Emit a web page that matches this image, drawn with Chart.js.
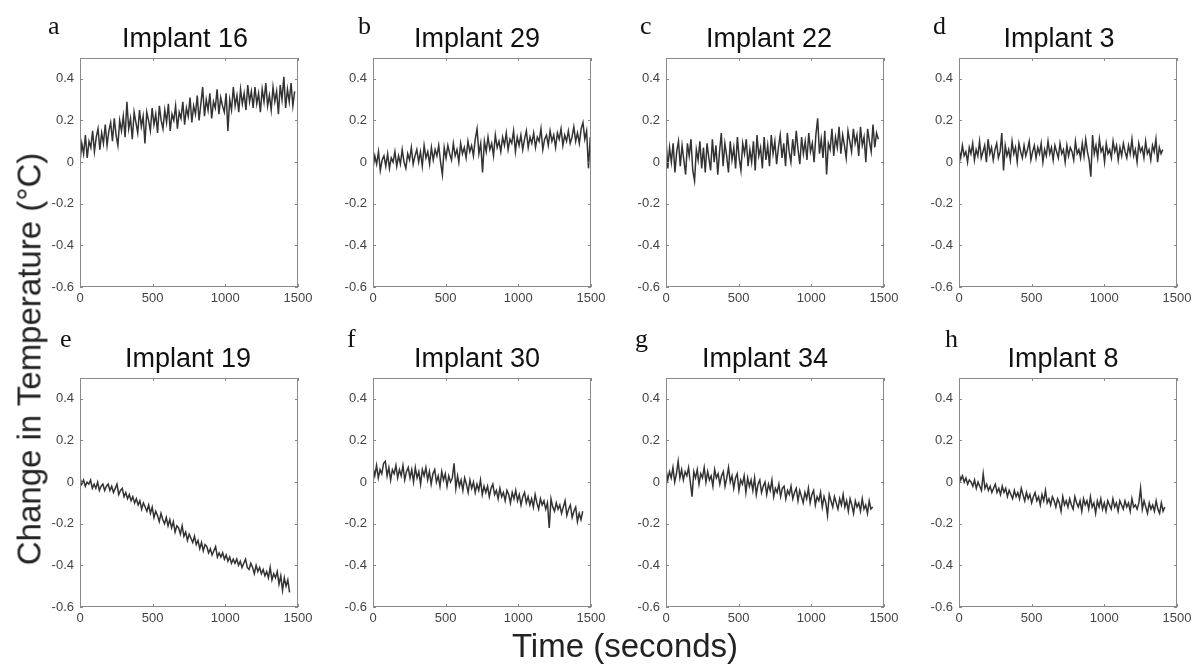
<!DOCTYPE html>
<html>
<head>
<meta charset="utf-8">
<script src="https://cdn.jsdelivr.net/npm/chart.js"></script>
<style>
  body { margin: 0; background: #fff; }
  #page { position: relative; width: 1199px; height: 664px; overflow: hidden; font-family: "Liberation Sans", Arial, sans-serif; }
  #page canvas { position: absolute; }
  .title { position: absolute; text-align: center; font-size: 27px; line-height: 27px; color: #111; white-space: nowrap; }
  .letter { position: absolute; font-family: "Liberation Serif", "Times New Roman", serif; font-size: 26px; line-height: 26px; color: #111; }
  .axlabel { position: absolute; font-size: 33px; line-height: 33px; color: #222; white-space: nowrap; }
</style>
</head>
<body>
<div id="page"></div>
<script>
// axis ticks shared by every panel
var xTicks = [0, 500, 1000, 1500];
var yTicks = [-0.6, -0.4, -0.2, 0, 0.2, 0.4];

var panelLetters = ['a', 'b', 'c', 'd', 'e', 'f', 'g', 'h'];
var panelTitles = ['Implant 16', 'Implant 29', 'Implant 22', 'Implant 3',
                   'Implant 19', 'Implant 30', 'Implant 34', 'Implant 8'];
// last recorded time of each trace (s)
var endTimes = [1477, 1495, 1461, 1402, 1442, 1443, 1422, 1416];

// change in temperature (°C), evenly spaced samples from 0 to the end time
var implant16 = [0.00, 0.09, 0.04, 0.13, 0.02, 0.10, 0.07, 0.15,
  0.05, 0.12, 0.16, 0.06, 0.14, 0.09, 0.18, 0.08,
  0.15, 0.19, 0.10, 0.21, 0.13, 0.08, 0.20, 0.15,
  0.22, 0.12, 0.29, 0.16, 0.21, 0.11, 0.24, 0.19,
  0.14, 0.25, 0.17, 0.22, 0.09, 0.24, 0.20, 0.15,
  0.26, 0.18, 0.23, 0.14, 0.27, 0.20, 0.16, 0.25,
  0.19, 0.28, 0.15, 0.23, 0.20, 0.27, 0.16, 0.24,
  0.21, 0.29, 0.18, 0.26, 0.22, 0.31, 0.19, 0.27,
  0.23, 0.32, 0.20, 0.28, 0.36, 0.22, 0.30, 0.25,
  0.33, 0.21, 0.29, 0.26, 0.35, 0.23, 0.31, 0.27, 0.24,
  0.33, 0.15, 0.30, 0.25, 0.36, 0.27, 0.32, 0.24,
  0.35, 0.28, 0.33, 0.25, 0.37, 0.29, 0.34, 0.26,
  0.36, 0.28, 0.33, 0.24, 0.35, 0.29, 0.38, 0.27,
  0.32, 0.25, 0.36, 0.29, 0.34, 0.23, 0.37, 0.30,
  0.41, 0.26, 0.35, 0.29, 0.38, 0.27, 0.34];
var implant29 = [-0.03, 0.03, -0.01, 0.05, -0.04, 0.01, 0.03, -0.02,
  0.04, -0.03, 0.02, 0.00, 0.05, -0.02, 0.03, -0.01,
  0.06, 0.00, -0.03, 0.04, 0.01, 0.07, -0.01, 0.03,
  0.06, 0.00, 0.05, -0.02, 0.08, 0.02, 0.05, -0.01,
  0.07, 0.01, 0.06, 0.03, 0.08, 0.00, -0.06, 0.07,
  0.02, 0.08, 0.04, 0.01, 0.09, 0.03, 0.06, 0.00,
  0.09, 0.04, 0.07, 0.02, 0.10, 0.05, 0.08, 0.03,
  0.11, 0.16, 0.04, 0.09, -0.05, 0.10, 0.05, 0.12,
  0.06, 0.09, 0.03, 0.13, 0.07, 0.10, 0.05, 0.12,
  0.08, 0.14, 0.06, 0.11, 0.09, 0.15, 0.05, 0.12,
  0.08, 0.13, 0.06, 0.11, 0.15, 0.07, 0.12, 0.09,
  0.14, 0.07, 0.12, 0.10, 0.16, 0.06, 0.11, 0.13,
  0.08, 0.15, 0.10, 0.13, 0.07, 0.14, 0.11, 0.16,
  0.08, 0.13, 0.10, 0.15, 0.09, 0.12, 0.17, 0.10,
  0.14, 0.09, 0.16, 0.19, 0.11, 0.15, -0.03, 0.12];
var implant22 = [0.11, -0.03, 0.07, 0.00, 0.09, -0.05, 0.05, 0.10,
  -0.02, 0.08, 0.01, -0.06, 0.09, 0.03, 0.11, -0.04,
  -0.09, 0.06, 0.01, 0.10, -0.03, 0.07, -0.05, 0.09,
  0.02, -0.04, 0.11, 0.00, 0.08, -0.06, 0.05, 0.14,
  -0.02, 0.09, 0.03, -0.05, 0.10, 0.01, 0.07, -0.03,
  0.12, 0.02, -0.04, 0.09, 0.04, 0.11, -0.02, 0.06,
  0.00, 0.10, -0.04, 0.13, 0.03, 0.07, -0.03, 0.12,
  0.01, 0.08, -0.02, 0.13, 0.04, 0.10, -0.01, 0.07,
  0.13, 0.02, 0.09, -0.02, 0.14, 0.05, 0.00, 0.11,
  0.03, 0.15, 0.06, -0.01, 0.12, 0.04, 0.10, 0.01,
  0.14, 0.05, 0.09, 0.00, 0.13, 0.21, 0.04, 0.11,
  0.02, 0.15, -0.06, 0.09, 0.06, 0.16, 0.03, 0.12,
  0.07, 0.17, 0.04, 0.13, 0.08, 0.02, 0.15, 0.10,
  0.05, 0.16, 0.09, 0.13, 0.03, 0.17, 0.08, 0.12,
  0.00, 0.16, 0.10, 0.05, 0.18, 0.07, 0.14, 0.11];
var implant3 = [0.06, 0.02, 0.08, 0.03, 0.05, 0.00, 0.07, 0.04,
  0.09, 0.01, 0.06, 0.03, 0.10, 0.02, 0.05, 0.08,
  0.00, 0.11, 0.04, 0.07, 0.01, 0.06, 0.09, 0.02,
  0.05, 0.14, -0.04, 0.08, 0.03, 0.06, 0.01, 0.10,
  0.04, 0.07, 0.00, 0.09, 0.05, 0.02, 0.08, 0.03,
  0.06, 0.10, 0.01, 0.05, 0.08, 0.02, 0.07, 0.04,
  0.09, 0.00, 0.06, 0.03, 0.10, 0.04, 0.07, 0.01,
  0.08, 0.05, 0.02, 0.09, 0.04, 0.06, 0.00, 0.08,
  0.03, 0.07, 0.05, 0.01, 0.10, 0.04, 0.06, 0.02,
  0.09, 0.03, 0.11, 0.05, 0.01, -0.07, 0.13, 0.04,
  0.08, 0.02, 0.11, 0.05, 0.07, 0.00, 0.09, 0.04,
  0.06, 0.02, 0.10, 0.05, 0.08, 0.01, 0.07, 0.03,
  0.09, 0.05, 0.02, 0.08, 0.04, 0.11, 0.03, 0.06,
  0.00, 0.09, 0.05, 0.07, 0.02, 0.10, 0.04, 0.06,
  0.01, 0.08, 0.05, 0.11, 0.00, 0.07, 0.04, 0.06];
var implant19 = [0.02, -0.01, 0.01, -0.02, 0.00, -0.01, 0.01, -0.03,
  -0.01, -0.03, 0.00, -0.04, -0.02, -0.01, -0.04, -0.02,
  -0.01, -0.04, -0.02, -0.05, -0.03, -0.01, -0.06, -0.04,
  -0.03, -0.07, -0.05, -0.08, -0.06, -0.09, -0.07, -0.10,
  -0.08, -0.11, -0.09, -0.13, -0.10, -0.12, -0.14, -0.11,
  -0.15, -0.12, -0.17, -0.14, -0.16, -0.19, -0.15, -0.18,
  -0.20, -0.17, -0.21, -0.18, -0.22, -0.19, -0.24, -0.21,
  -0.22, -0.25, -0.21, -0.26, -0.24, -0.28, -0.25, -0.27,
  -0.29, -0.26, -0.30, -0.28, -0.32, -0.29, -0.33, -0.30,
  -0.31, -0.34, -0.32, -0.35, -0.33, -0.31, -0.36, -0.34,
  -0.36, -0.34, -0.37, -0.35, -0.38, -0.36, -0.39, -0.37,
  -0.39, -0.37, -0.40, -0.38, -0.41, -0.39, -0.37, -0.41,
  -0.42, -0.39, -0.41, -0.44, -0.40, -0.43, -0.41, -0.44,
  -0.42, -0.45, -0.43, -0.46, -0.41, -0.47, -0.44, -0.46,
  -0.43, -0.49, -0.45, -0.52, -0.46, -0.50, -0.47, -0.53];
var implant30 = [0.07, 0.03, 0.08, 0.02, 0.06, 0.04, 0.09, 0.10,
  0.03, 0.07, 0.01, 0.06, 0.04, 0.08, 0.02, 0.06,
  0.03, 0.08, 0.01, 0.05, 0.07, 0.02, 0.06, 0.00,
  0.07, 0.02, 0.05, -0.01, 0.06, 0.03, 0.07, 0.01,
  0.05, -0.01, 0.04, 0.06, 0.00, 0.03, -0.02, 0.05,
  0.01, 0.04, -0.02, 0.03, 0.00, 0.02, 0.09, -0.03,
  0.03, -0.02, 0.01, -0.04, 0.02, -0.01, -0.05, 0.01,
  -0.03, 0.00, -0.05, -0.01, -0.04, 0.01, -0.06, -0.02,
  -0.05, -0.02, -0.07, -0.03, -0.01, -0.06, -0.04, -0.08,
  -0.03, -0.07, -0.05, -0.09, -0.04, -0.06, -0.10, -0.05,
  -0.08, -0.04, -0.09, -0.06, -0.11, -0.07, -0.05, -0.10,
  -0.07, -0.11, -0.08, -0.12, -0.06, -0.10, -0.13, -0.08,
  -0.11, -0.09, -0.13, -0.10, -0.22, -0.08, -0.12, -0.14,
  -0.10, -0.13, -0.11, -0.15, -0.12, -0.09, -0.16, -0.13,
  -0.11, -0.17, -0.14, -0.12, -0.19, -0.15, -0.18, -0.14];
var implant34 = [0.06, 0.01, 0.05, 0.02, 0.07, 0.00, 0.04, 0.10,
  0.02, 0.06, 0.01, 0.05, 0.03, 0.07, 0.00, -0.07,
  0.05, 0.02, 0.06, -0.01, 0.04, 0.02, 0.07, 0.00,
  0.05, 0.01, 0.03, -0.02, 0.06, 0.02, 0.04, -0.01,
  0.03, 0.05, -0.02, 0.02, 0.07, 0.00, 0.03, -0.03,
  0.02, 0.04, -0.04, 0.01, -0.01, 0.03, -0.05, 0.02,
  -0.02, 0.01, -0.04, 0.02, -0.06, -0.01, 0.01, -0.05,
  -0.02, 0.00, -0.06, -0.01, -0.04, 0.01, -0.07, -0.03,
  -0.05, -0.01, -0.07, -0.03, -0.02, -0.08, -0.04, -0.06,
  -0.02, -0.08, -0.05, -0.03, -0.09, -0.04, -0.07, -0.10,
  -0.05, -0.08, -0.03, -0.10, -0.06, -0.04, -0.11, -0.07,
  -0.09, -0.05, -0.12, -0.07, -0.10, -0.16, -0.06, -0.09,
  -0.12, -0.07, -0.10, -0.13, -0.08, -0.11, -0.06, -0.12,
  -0.09, -0.14, -0.08, -0.11, -0.15, -0.09, -0.12, -0.10,
  -0.14, -0.08, -0.13, -0.11, -0.15, -0.09, -0.13, -0.12];
var implant8 = [0.04, 0.01, 0.03, 0.00, 0.02, -0.01, 0.01, 0.00,
  -0.02, 0.01, -0.03, 0.00, -0.02, -0.04, 0.04, -0.03,
  -0.01, -0.04, -0.02, -0.05, -0.03, -0.01, -0.05, -0.03,
  -0.06, -0.02, -0.05, -0.03, -0.07, -0.04, -0.06, -0.08,
  -0.04, -0.07, -0.05, -0.08, -0.03, -0.06, -0.09, -0.05,
  -0.08, -0.06, -0.10, -0.07, -0.05, -0.09, -0.07, -0.11,
  -0.06, -0.09, -0.04, -0.10, -0.08, -0.11, -0.07, -0.09,
  -0.12, -0.08, -0.10, -0.14, -0.07, -0.11, -0.09, -0.12,
  -0.08, -0.11, -0.13, -0.07, -0.10, -0.12, -0.09, -0.14,
  -0.08, -0.11, -0.09, -0.13, -0.07, -0.12, -0.10, -0.15,
  -0.09, -0.12, -0.08, -0.13, -0.10, -0.14, -0.09, -0.11,
  -0.13, -0.08, -0.12, -0.10, -0.14, -0.09, -0.11, -0.13,
  -0.09, -0.12, -0.10, -0.14, -0.08, -0.12, -0.11, -0.13,
  -0.10, -0.03, -0.13, -0.09, -0.12, -0.15, -0.10, -0.13,
  -0.11, -0.14, -0.09, -0.13, -0.15, -0.10, -0.14, -0.12];

var series = [implant16, implant29, implant22, implant3,
              implant19, implant30, implant34, implant8];

// page layout of the plot boxes
var plotLefts = [80, 373, 666, 959];
var plotTops = [58, 378];
var plotW = 218, plotH = 229;
var padL = 45, padT = 16, padR = 25, padB = 25;
var titleShift = [-4, -5, -6, -9, -1, -5, -10, -5];
var letterPos = [[48, 13], [358, 13], [640, 13], [933, 13],
                 [60, 326], [347, 326], [635, 326], [945, 326]];

var page = document.getElementById('page');

// MATLAB-like box with inward ticks on all four sides
var boxPlugin = {
  id: 'boxTicks',
  afterDatasetsDraw: function (chart) {
    var a = chart.chartArea;
    var ctx = chart.ctx;
    var xs = chart.scales.x, ys = chart.scales.y;
    var len = 3;
    ctx.save();
    ctx.strokeStyle = '#8a8a8a';
    ctx.lineWidth = 1;
    ctx.strokeRect(a.left + 0.5, a.top + 0.5, a.right - a.left - 1, a.bottom - a.top - 1);
    ctx.beginPath();
    xTicks.forEach(function (v) {
      var px = Math.round(xs.getPixelForValue(v)) + 0.5;
      ctx.moveTo(px, a.bottom); ctx.lineTo(px, a.bottom - len);
      ctx.moveTo(px, a.top); ctx.lineTo(px, a.top + len);
    });
    yTicks.forEach(function (v) {
      var py = Math.round(ys.getPixelForValue(v)) + 0.5;
      ctx.moveTo(a.left, py); ctx.lineTo(a.left + len, py);
      ctx.moveTo(a.right, py); ctx.lineTo(a.right - len, py);
    });
    ctx.stroke();
    ctx.restore();
  }
};

function addDiv(cls, text, css) {
  var d = document.createElement('div');
  d.className = cls;
  d.textContent = text;
  for (var k in css) d.style[k] = css[k];
  page.appendChild(d);
  return d;
}

function drawPanel(i) {
  var col = i % 4, row = Math.floor(i / 4);
  var pLeft = plotLefts[col], pTop = plotTops[row];
  var vals = series[i];

  var pts = [];
  for (var j = 0; j < vals.length; j++) {
    pts.push({ x: endTimes[i] * j / (vals.length - 1), y: vals[j] });
  }

  var cv = document.createElement('canvas');
  cv.width = padL + plotW + padR;
  cv.height = padT + plotH + padB;
  cv.style.left = (pLeft - padL) + 'px';
  cv.style.top = (pTop - padT) + 'px';
  page.appendChild(cv);

  var chart = new Chart(cv, {
    type: 'line',
    data: {
      datasets: [{
        data: pts,
        borderColor: '#333333',
        borderWidth: 1.5,
        pointRadius: 0,
        tension: 0,
        fill: false
      }]
    },
    options: {
      responsive: false,
      animation: false,
      devicePixelRatio: 1,
      layout: { padding: { left: 0, top: padT, right: padR, bottom: 0 } },
      plugins: { legend: { display: false }, tooltip: { enabled: false } },
      scales: {
        x: {
          type: 'linear', min: 0, max: 1500,
          afterBuildTicks: function (s) { s.ticks = xTicks.map(function (v) { return { value: v }; }); },
          afterFit: function (s) { s.height = padB; },
          grid: { display: false, drawTicks: false },
          border: { display: false },
          ticks: { padding: 4, color: '#444', maxRotation: 0, autoSkip: false,
                   font: { family: 'Liberation Sans', size: 13 },
                   callback: function (v) { return String(v); } }
        },
        y: {
          min: -0.6, max: 0.5,
          afterBuildTicks: function (s) { s.ticks = yTicks.map(function (v) { return { value: v }; }); },
          afterFit: function (s) { s.width = padL; },
          grid: { display: false, drawTicks: false },
          border: { display: false },
          ticks: { padding: 6, color: '#444', autoSkip: false,
                   font: { family: 'Liberation Sans', size: 13 },
                   callback: function (v) { return String(v); } }
        }
      }
    },
    plugins: [boxPlugin]
  });

  // nudge the canvas so the plot box sits where the reference has it
  var ca = chart.chartArea;
  cv.style.left = (pLeft - ca.left) + 'px';
  cv.style.top = (pTop - ca.top) + 'px';

  addDiv('title', panelTitles[i], {
    left: (pLeft + titleShift[i]) + 'px', width: plotW + 'px',
    top: (pTop - 33) + 'px'
  });
  addDiv('letter', panelLetters[i], {
    left: letterPos[i][0] + 'px', top: letterPos[i][1] + 'px'
  });
}

for (var n = 0; n < series.length; n++) drawPanel(n);

addDiv('axlabel', 'Change in Temperature (\u00B0C)', {
  left: '29px', top: '359px', transform: 'translate(-50%, -50%) rotate(-90deg)'
});
addDiv('axlabel', 'Time (seconds)', {
  left: '625px', top: '629px', transform: 'translateX(-50%)'
});
</script>
</body>
</html>
